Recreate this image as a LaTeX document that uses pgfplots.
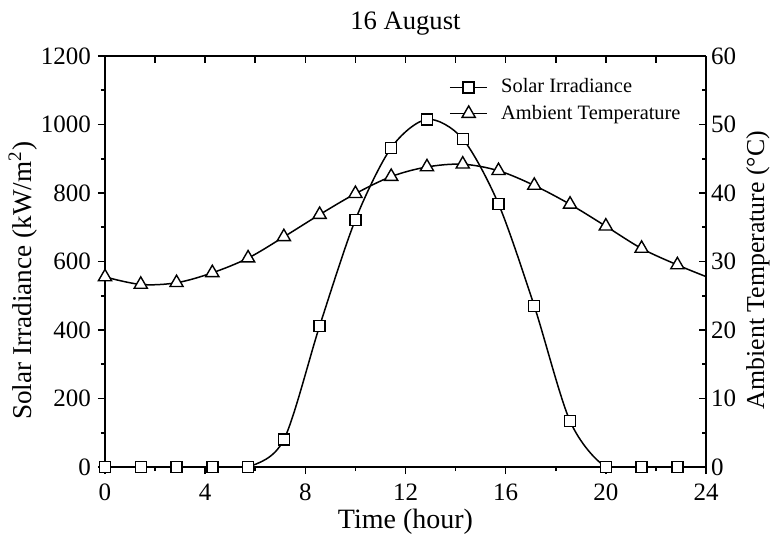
\documentclass[border=0pt]{standalone}
\usepackage{fontspec}
\setmainfont{Liberation Serif}
\usepackage{pgfplots}
\pgfplotsset{compat=1.18}
\begin{document}
\begin{tikzpicture}
\pgfplotsset{
  every axis/.append style={
    scale only axis, width=300.5pt, height=205.5pt,
    at={(0,0)}, anchor=south west,
    xmin=0, xmax=24,
    /pgf/number format/assume math mode=true,
    /pgf/number format/1000 sep={},
    scaled ticks=false,
    tick label style={font=\fontsize{12.5}{14}\selectfont},
    axis line style={line width=1pt},
    major tick length=3.5pt, minor tick length=2pt,
    every tick/.style={line width=0.8pt, black},
  }
}
\begin{axis}[
  name=main,
  axis x line*=bottom, axis y line*=left,
  tick align=outside,
  ymin=0, ymax=1200,
  xtick={0,4,...,24}, minor xtick={2,6,...,22},
  ytick={0,200,...,1200}, minor ytick={100,300,...,1100},
  xticklabel style={yshift=-1.5pt},
  xlabel={Time (hour)},
  xlabel style={at={(axis description cs:0.5,-0.134)}, anchor=center, font=\fontsize{14}{16}\selectfont},
  ylabel={Solar Irradiance (kW/m\textsuperscript{2})},
  ylabel style={at={(axis description cs:-0.1364,0.453)}, anchor=center, rotate=0, font=\fontsize{13.6}{15}\selectfont},
  title={16 August},
  title style={at={(axis description cs:0.5,1.049)}, anchor=center, font=\fontsize{13.3}{15}\selectfont},
]
\addplot[black, line width=0.75pt, smooth, tension=0.5,
  mark=square*, mark size=2.75pt, mark options={solid, fill=white, line width=0.7pt}]
coordinates {
(0,0) (1.4286,0) (2.8571,0) (4.2857,0) (5.7143,0) (7.1429,80)
(8.5714,412) (10,722) (11.4286,932) (12.8571,1015) (14.2857,958)
(15.7143,768) (17.1429,470) (18.5714,134) (20,0) (21.4286,0) (22.8571,0)
};
\end{axis}
\begin{axis}[
  axis x line*=top, axis y line*=right,
  tick align=inside,
  ymin=0, ymax=60,
  xtick={0,2,...,24}, xticklabels={},
  ytick={0,10,...,60}, minor ytick={5,15,...,55},
  yticklabel style={xshift=-1pt},
  ylabel={Ambient Temperature (°C)},
  ylabel style={at={(axis description cs:1.0865,0.479)}, anchor=center, rotate=0, font=\fontsize{12.9}{15}\selectfont},
  legend style={at={(axis description cs:0.562,0.965)}, anchor=north west, draw=none, fill=none,
    font=\fontsize{10.2}{12}\selectfont, row sep=0.5pt, column sep=4.5pt},
  legend cell align=left,
  legend image code/.code={\draw (0cm,0cm) -- (0.66cm,0cm); \draw plot coordinates {(0.33cm,0cm)};},
]
\addlegendimage{black, line width=0.75pt, mark=square*, mark size=2.75pt, mark options={solid, fill=white, line width=0.7pt}}
\addlegendentry{Solar Irradiance}
\addlegendimage{black, line width=0.75pt, mark=triangle*, mark size=3.8pt, mark options={solid, fill=white, line width=0.7pt}}
\addlegendentry{Ambient Temperature}
\addplot[black, line width=0.75pt, smooth, tension=0.55, mark=none, forget plot]
coordinates {
(0,27.75) (1.4286,26.65) (2.8571,26.9) (4.2857,28.35) (5.7143,30.5) (7.1429,33.6)
(8.5714,36.85) (10,39.9) (11.4286,42.4) (12.8571,43.8) (14.2857,44.2)
(15.7143,43.25) (17.1429,41.1) (18.5714,38.35) (20,35.15) (21.4286,31.9) (22.8571,29.5) (24,27.8)
};
\addplot[black, only marks, mark=triangle*, mark size=3.8pt, mark options={solid, fill=white, line width=0.7pt}, forget plot]
coordinates {
(0,27.75) (1.4286,26.65) (2.8571,26.9) (4.2857,28.35) (5.7143,30.5) (7.1429,33.6)
(8.5714,36.85) (10,39.9) (11.4286,42.4) (12.8571,43.8) (14.2857,44.2)
(15.7143,43.25) (17.1429,41.1) (18.5714,38.35) (20,35.15) (21.4286,31.9) (22.8571,29.5)
};
\end{axis}
\pgfresetboundingbox
\useasboundingbox ([xshift=-52.5pt,yshift=-35pt]main.south west) rectangle ([xshift=32.5pt,yshift=28pt]main.north east);
\end{tikzpicture}
\end{document}
